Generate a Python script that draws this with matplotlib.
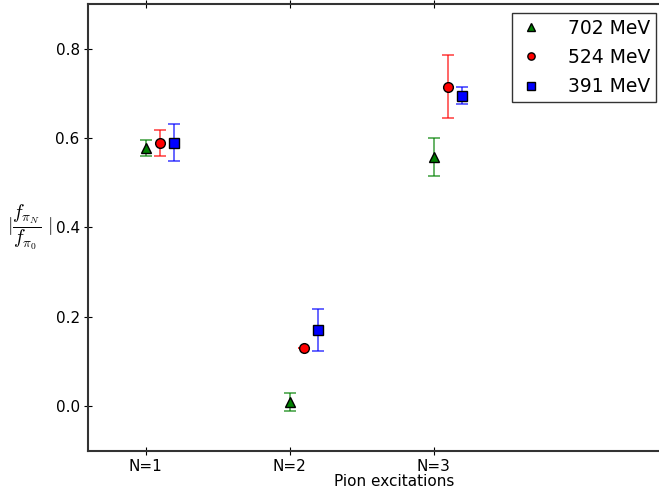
import numpy as np
import matplotlib
matplotlib.use('Agg')
import matplotlib.pyplot as plt

plt.rcParams['mathtext.fontset'] = 'cm'

# pion excitation levels
levels = [1, 2, 3]
tick_labels = ['N=1', 'N=2', 'N=3']

# ratio |f_piN / f_pi0| and errors per pion mass
ratio_702 = [0.578, 0.010, 0.558]
err_702 = [0.018, 0.020, 0.042]
ratio_524 = [0.590, 0.130, 0.715]
err_524 = [0.029, 0.0, 0.071]
ratio_391 = [0.590, 0.170, 0.695]
err_391 = [0.042, 0.047, 0.019]

W, H = 659, 492
fig = plt.figure(figsize=(W / 100, H / 100), dpi=100)
# right spine falls outside the picture, as in the cropped original
ax = fig.add_axes([88 / W, 41 / H, 612 / W, 447 / H])

x = np.array(levels, dtype=float)
series = [
    (x + 0.0, ratio_702, err_702, 'g', '^', '702 MeV'),
    (x + 0.1, ratio_524, err_524, 'r', 'o', '524 MeV'),
    (x + 0.2, ratio_391, err_391, 'b', 's', '391 MeV'),
]
for xs, ys, es, c, m, lab in series:
    ax.errorbar(xs, ys, yerr=es, fmt='none', ecolor=c, alpha=0.7,
                capsize=4, elinewidth=1.2, capthick=1.2)
    ax.plot(xs, ys, linestyle='none', marker=m, color=c, markersize=7,
            markeredgecolor='k', markeredgewidth=1, label=lab)

ax.set_xlim(0.6, 0.6 + 612 / 144)
ax.set_ylim(-0.1, 0.9)
ax.set_xticks(levels)
ax.set_xticklabels(tick_labels)
ax.set_yticks([0.0, 0.2, 0.4, 0.6, 0.8])
ax.tick_params(direction='inout', length=6, labelsize=11, pad=3,
               top=True, right=True)
ax.set_xlabel('Pion excitations', fontsize=11, labelpad=0)
ax.set_ylabel(r'$|\dfrac{f_{\pi_N}}{f_{\pi_0}}\ |$', fontsize=14, rotation=0,
              va='center', ha='right')
ax.yaxis.set_label_coords(-0.058, 0.5)
for sp in ax.spines.values():
    sp.set_linewidth(1.5)
    sp.set_color('#333333')

leg = ax.legend(loc='upper right', bbox_to_anchor=(656 / W, 1 - 13 / H),
                bbox_transform=fig.transFigure, borderaxespad=0,
                numpoints=1, fontsize=13.5, fancybox=False, markerscale=0.75,
                handlelength=1.4, handletextpad=1.3, labelspacing=0.55,
                borderpad=0.3)
leg.get_frame().set_edgecolor('k')

fig.savefig('out.png', dpi=100)
